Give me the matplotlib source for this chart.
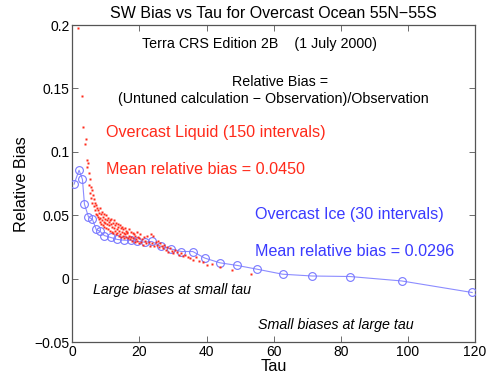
import matplotlib
matplotlib.use("Agg")
import matplotlib.pyplot as plt

plt.rcParams['font.family'] = ['Liberation Sans', 'DejaVu Sans']

# Overcast ice (30 intervals) - blue circles
ice_tau = [0.5, 2.0, 3.0, 3.6, 4.8, 6.0, 7.1, 8.3, 9.5, 11.4, 13.4, 15.4, 17.4,
           19.4, 21.6, 23.7, 26.3, 29.3, 32.5, 35.9, 39.5, 44.0, 49.2, 55.2,
           62.7, 71.5, 82.7, 98.2, 119.2]
ice_bias = [0.0746, 0.0856, 0.0783, 0.0588, 0.0488, 0.0468, 0.0389, 0.0373,
            0.0341, 0.0326, 0.0310, 0.0304, 0.0304, 0.0294, 0.0289, 0.0294,
            0.0257, 0.0236, 0.0215, 0.0215, 0.0163, 0.0126, 0.0105, 0.0075,
            0.0036, 0.0022, 0.0018, -0.0017, -0.0108]

# Overcast liquid (150 intervals) - red dots
liq_tau = [1.8, 2.8, 3.3, 4.0, 3.8, 4.3, 4.8, 4.5,
           4.9, 5.1, 5.3, 5.4, 5.6, 5.7, 5.9, 6.0, 6.2, 6.3, 6.5, 6.6, 6.8, 6.9, 7.1, 7.2, 7.4, 7.5,
           7.7, 7.8, 7.9, 8.1, 8.2, 8.3, 8.5, 8.6, 8.7, 8.9, 9.0, 9.1, 9.3, 9.4, 9.5, 9.7, 9.8, 9.9,
           10.1, 10.2, 10.4, 10.5, 10.7, 10.8, 11.0,
           11.1, 11.3, 11.4, 11.6, 11.7, 11.9, 12.0, 12.2, 12.3, 12.5, 12.6, 12.8, 12.9, 13.1, 13.2,
           13.4, 13.5, 13.7, 13.8, 14.0, 14.1, 14.3, 14.4, 14.6, 14.7, 14.9, 15.0, 15.2, 15.3, 15.5,
           15.6, 15.8, 15.9, 16.1, 16.2,
           16.4, 16.6, 16.8, 17.0, 17.2, 17.4, 17.6, 17.8, 18.0, 18.2, 18.4, 18.6, 18.8, 19.0, 19.2,
           19.4, 19.6, 19.8, 20.0, 20.3, 20.6, 20.9, 21.2, 21.5, 21.8, 22.1, 22.4, 22.7, 23.0, 23.4,
           23.7, 24.1, 24.4, 24.8, 25.1, 25.5, 25.8, 26.2, 26.6, 27.0, 27.4, 27.9, 28.3, 28.6, 29.1,
           29.6, 30.1, 30.6, 31.2, 31.8, 32.4, 32.9, 33.6, 34.4, 35.2, 35.9, 36.8, 37.8, 38.9, 40.0,
           41.5, 44.0, 47.5, 53.2]
liq_bias = [0.198, 0.144, 0.120, 0.110, 0.106, 0.094, 0.091, 0.088,
            0.083, 0.074, 0.079, 0.068, 0.072, 0.064, 0.070, 0.060, 0.066, 0.057, 0.063, 0.054,
            0.060, 0.051, 0.058, 0.050, 0.056, 0.049,
            0.054, 0.047, 0.052, 0.045, 0.056, 0.048, 0.043, 0.051, 0.046, 0.053, 0.042, 0.049,
            0.045, 0.051, 0.041, 0.047, 0.044, 0.050, 0.040, 0.046, 0.043, 0.048, 0.039, 0.045,
            0.042,
            0.046, 0.038, 0.043, 0.047, 0.037, 0.041, 0.044, 0.036, 0.040, 0.046, 0.038, 0.042,
            0.035, 0.044, 0.039, 0.036, 0.041, 0.043, 0.034, 0.038, 0.042, 0.035, 0.040, 0.033,
            0.037, 0.041, 0.034, 0.039, 0.036, 0.032, 0.040, 0.035, 0.038, 0.033, 0.037,
            0.036, 0.032, 0.039, 0.034, 0.031, 0.037, 0.033, 0.030, 0.036, 0.032, 0.035, 0.029,
            0.034, 0.031, 0.037, 0.030, 0.033, 0.028, 0.032, 0.035, 0.029, 0.031, 0.027, 0.033,
            0.030, 0.028, 0.034, 0.029, 0.026, 0.035,
            0.028, 0.034, 0.026, 0.029, 0.027, 0.030, 0.025, 0.028, 0.026, 0.024, 0.027, 0.023,
            0.025, 0.021, 0.024, 0.022, 0.020, 0.023, 0.021, 0.019, 0.020, 0.018, 0.019, 0.017,
            0.016, 0.015, 0.017, 0.014, 0.013, 0.011, 0.012, 0.009, 0.007, 0.004]

x_ticks = [0, 20, 40, 60, 80, 100, 120]
y_ticks = [-0.05, 0, 0.05, 0.1, 0.15, 0.2]
y_ticklabels = ['\u22120.05', '0', '0.05', '0.1', '0.15', '0.2']

fig = plt.figure(figsize=(4.89, 3.79), dpi=100)
ax = fig.add_axes([0.148, 0.097, 0.823, 0.837])

ax.plot(ice_tau, ice_bias, color='#8c8cff', lw=0.8, marker='o', ms=5.6,
        mfc='none', mec='#7878ff', mew=0.8, zorder=3)
ax.plot(liq_tau, liq_bias, ls='none', marker='s', ms=1.5, color='#ff2a1a',
        mec='none', zorder=4)

ax.set_xlim(0, 120)
ax.set_ylim(-0.05, 0.2)
ax.set_xticks(x_ticks)
ax.set_yticks(y_ticks)
ax.set_yticklabels(y_ticklabels)
ax.tick_params(direction='in', top=True, right=True, length=4, width=0.6,
               labelsize=10, color='#555555', pad=2)
for s in ax.spines.values():
    s.set_color('#555555')
    s.set_linewidth(0.9)

ax.set_title('SW Bias vs Tau for Overcast Ocean 55N\u221255S', fontsize=11.5, pad=5)
ax.set_xlabel('Tau', fontsize=11.7, labelpad=0)
ax.set_ylabel('Relative Bias', fontsize=11.7, labelpad=4)

T = ax.transAxes
ax.text(0.465, 0.940, 'Terra CRS Edition 2B    (1 July 2000)', transform=T,
        ha='center', va='center', fontsize=10.3)
ax.text(0.515, 0.821, 'Relative Bias =', transform=T, ha='center', va='center', fontsize=10.3)
ax.text(0.50, 0.767, '(Untuned calculation \u2212 Observation)/Observation', transform=T,
        ha='center', va='center', fontsize=10.3)
ax.text(0.0837, 0.660, 'Overcast Liquid (150 intervals)', transform=T, ha='left', va='center',
        fontsize=11.6, color='#ff2a1a')
ax.text(0.0837, 0.543, 'Mean relative bias = 0.0450', transform=T, ha='left', va='center',
        fontsize=11.6, color='#ff2a1a')
ax.text(0.4537, 0.404, 'Overcast Ice (30 intervals)', transform=T, ha='left', va='center',
        fontsize=11.6, color='#3a3aff')
ax.text(0.4537, 0.2846, 'Mean relative bias = 0.0296', transform=T, ha='left', va='center',
        fontsize=11.6, color='#3a3aff')
ax.text(0.052, 0.165, 'Large biases at small tau', transform=T, ha='left', va='center',
        fontsize=10.3, style='italic')
ax.text(0.462, 0.0545, 'Small biases at large tau', transform=T, ha='left', va='center',
        fontsize=10.3, style='italic')

fig.savefig('out.png', dpi=100)
